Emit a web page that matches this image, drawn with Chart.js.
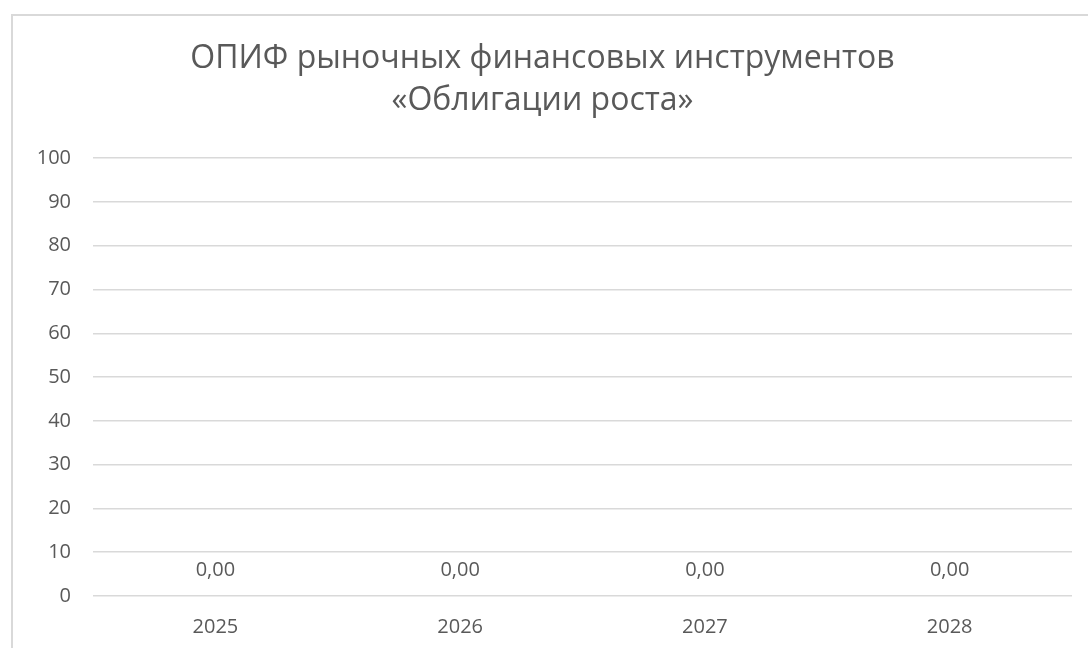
<!DOCTYPE html>
<html>
<head>
<meta charset="utf-8">
<script src="https://cdn.jsdelivr.net/npm/chart.js@4/dist/chart.umd.min.js"></script>
<style>
  html, body { margin: 0; padding: 0; background: #fff; overflow: hidden; }
  #box {
    position: absolute; left: 11px; top: 14px;
    width: 1077px; height: 640px;
    border-left: 2px solid #d9d9d9; border-top: 2px solid #d9d9d9;
  }
</style>
</head>
<body>
<div id="box"><canvas id="chart" width="1077" height="640"></canvas></div>
<script>
// --- data ---
const TITLE_LINES = ['ОПИФ рыночных финансовых инструментов', '«Облигации роста»'];
const YEARS  = ['2025', '2026', '2027', '2028'];
const VALUES = [0, 0, 0, 0];
const Y_MIN = 0, Y_MAX = 100, Y_STEP = 10;

const TEXT = '#595959';
const GRID = '#d9d9d9';
const FONT = "'Open Sans', 'Noto Sans', sans-serif";

Chart.defaults.font.family = FONT;
Chart.defaults.color = TEXT;

// value labels above each bar, Excel style "0,00"
const valueLabels = {
  id: 'valueLabels',
  afterDatasetsDraw(chart) {
    const { ctx } = chart;
    const meta = chart.getDatasetMeta(0);
    ctx.save();
    ctx.font = "20px " + FONT;
    ctx.fillStyle = TEXT;
    ctx.textAlign = 'center';
    ctx.textBaseline = 'middle';
    meta.data.forEach((bar, i) => {
      const txt = VALUES[i].toFixed(2).replace('.', ',');
      ctx.fillText(txt, bar.x, bar.y - 26);
    });
    ctx.restore();
  }
};

new Chart(document.getElementById('chart'), {
  type: 'bar',
  data: {
    labels: YEARS,
    datasets: [{
      data: VALUES,
      backgroundColor: '#4472c4',
      borderWidth: 0,
    }]
  },
  options: {
    responsive: false,
    animation: false,
    layout: { padding: { left: 0, right: 18, top: 16, bottom: 6 } },
    plugins: {
      legend: { display: false },
      tooltip: { enabled: false },
      title: {
        display: true,
        text: TITLE_LINES,
        color: TEXT,
        font: { size: 32, weight: 'normal', lineHeight: 1.3 },
        padding: { top: 6, bottom: 37 },
      }
    },
    scales: {
      x: {
        grid: { display: false },
        border: { display: false },
        ticks: { font: { size: 20 }, color: TEXT, padding: 11 },
      },
      y: {
        min: Y_MIN,
        max: Y_MAX,
        ticks: { stepSize: Y_STEP, font: { size: 20 }, color: TEXT, padding: 22 },
        grid: { color: GRID, lineWidth: 1.5, drawTicks: false },
        border: { display: false },
        afterFit(scale) { scale.width = 80; },
      }
    }
  },
  plugins: [valueLabels]
});
</script>
</body>
</html>
